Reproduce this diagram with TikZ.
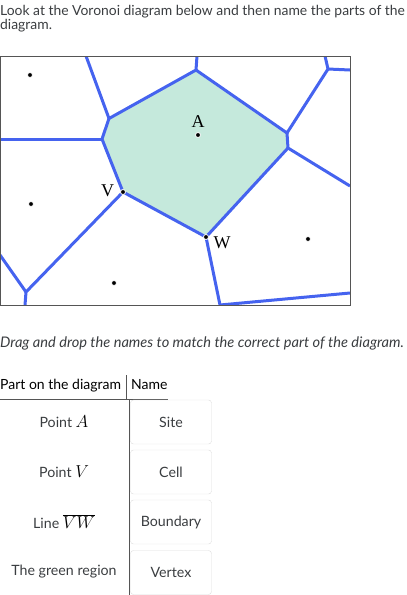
\documentclass[tikz,border=0pt]{standalone}
\usepackage{fontspec}
\setmainfont{Lato}
\newfontfamily\sitefont{Liberation Serif}
\definecolor{edgeblue}{HTML}{4563EF}
\definecolor{cellgreen}{HTML}{C5E9DC}
\definecolor{txtgray}{HTML}{3A3D40}
\definecolor{boxgray}{HTML}{DCDCDC}
\definecolor{framegray}{HTML}{555555}
\newcommand{\bigmath}[1]{{\color{black}\fontsize{16}{16}\selectfont$#1$}}
\tikzset{
  edge/.style={draw=edgeblue, line width=3pt, line join=round},
  site/.style={circle, fill=black, draw=white, line width=0.8pt, inner sep=0pt, minimum size=5pt},
  sitename/.style={font=\sitefont\fontsize{18}{18}\selectfont},
  namebox/.style={draw=boxgray, rounded corners=3pt, minimum width=81pt, minimum height=44pt, text=txtgray, font=\fontsize{14.2}{16}\selectfont},
  partlabel/.style={text=txtgray, font=\fontsize{14.2}{16}\selectfont},
  prose/.style={anchor=base west, inner sep=0pt, text=txtgray, font=\fontsize{13.9}{16}\selectfont},
}
\begin{document}
\begin{tikzpicture}[x=1pt, y=-1pt]
	\useasboundingbox (0,0) rectangle (407,595);
	\node[prose] (q1) at (0,15.5) {Look at the Voronoi diagram below and then name the parts of the};
	\node[prose] (q2) at (0,29) {diagram.};
	% voronoi vertices
	\coordinate (t1) at (86,56);
	\coordinate (p1) at (109,118.5);
	\coordinate (p2) at (196,70);
	\coordinate (t2) at (197,56);
	\coordinate (p3) at (287,133);
	\coordinate (p4) at (288,148);
	\coordinate (p5) at (328,69);
	\coordinate (t3) at (325,56);
	\coordinate (r1) at (350,70);
	\coordinate (r2) at (350,186);
	\coordinate (w) at (206,237);
	\coordinate (v) at (123,192);
	\coordinate (p6) at (102,139);
	\coordinate (l1) at (0,139);
	\coordinate (p7) at (26,292);
	\coordinate (b1) at (25,305);
	\coordinate (l2) at (0,255);
	\coordinate (b2) at (220,305);
	\coordinate (r3) at (350,293);
	\path[fill=cellgreen] (p1) -- (p2) -- (p3) -- (p4) -- (w) -- (v) -- (p6) -- cycle;
	\begin{scope}
		\clip (0,56) rectangle (350,305);
		\draw[edge] (t1) -- (p1) -- (p2) -- (t2);
		\draw[edge] (p2) -- (p3) -- (p5) -- (t3);
		\draw[edge] (p5) -- (r1);
		\draw[edge] (p3) -- (p4) -- (r2);
		\draw[edge] (p4) -- (w) -- (v) -- (p6) -- (p1);
		\draw[edge] (p6) -- (l1);
		\draw[edge] (v) -- (p7) -- (b1);
		\draw[edge] (p7) -- (l2);
		\draw[edge] (w) -- (b2) -- (r3);
	\end{scope}
	\draw[framegray, line width=1pt] (0,56) rectangle (350,305);
	% sites
	\node[site] (sa) at (198,135) {};
	\node[site] (s1) at (30,75) {};
	\node[site] (s2) at (31,204) {};
	\node[site] (s3) at (308,239) {};
	\node[site] (s4) at (114,283) {};
	\node[site] (sv) at (v) {};
	\node[site] (sw) at (w) {};
	\node[sitename] (la) at (198,122) {A};
	\node[sitename] (lv) at (107.5,191) {V};
	\node[sitename] (lw) at (222,243) {W};
	\node[prose, font=\itshape\fontsize{14.6}{16}\selectfont] (q3) at (0,347) {Drag and drop the names to match the correct part of the diagram.};
	% matching table
	\node[prose, text=black, font=\fontsize{14}{16}\selectfont] (hpart) at (0,389) {Part on the diagram};
	\node[prose, text=black, font=\fontsize{14}{16}\selectfont] (hname) at (131,389) {Name};
	\coordinate (h1) at (126,375);
	\coordinate (h2) at (126,399);
	\coordinate (c1) at (129,399);
	\coordinate (c2) at (129,595);
	\coordinate (u1) at (0,399);
	\coordinate (u2) at (168,399);
	\draw[framegray, line width=1pt] (h1) -- (h2);
	\draw[framegray, line width=1pt] (u1) -- (u2);
	\draw[framegray, line width=1pt] (c1) -- (c2);
	\node[partlabel] (pa) at (64,422) {Point \bigmath{A}};
	\node[partlabel] (pv) at (64,472) {Point \bigmath{V}};
	\node[partlabel] (pl) at (64,522) {Line \bigmath{\overline{VW}}};
	\node[partlabel] (pg) at (64,572) {The green region};
	\node[namebox] (n1) at (171,422) {Site};
	\node[namebox] (n2) at (171,472) {Cell};
	\node[namebox] (n3) at (171,522) {Boundary};
	\node[namebox] (n4) at (171,572.5) {Vertex};
\end{tikzpicture}
\end{document}
